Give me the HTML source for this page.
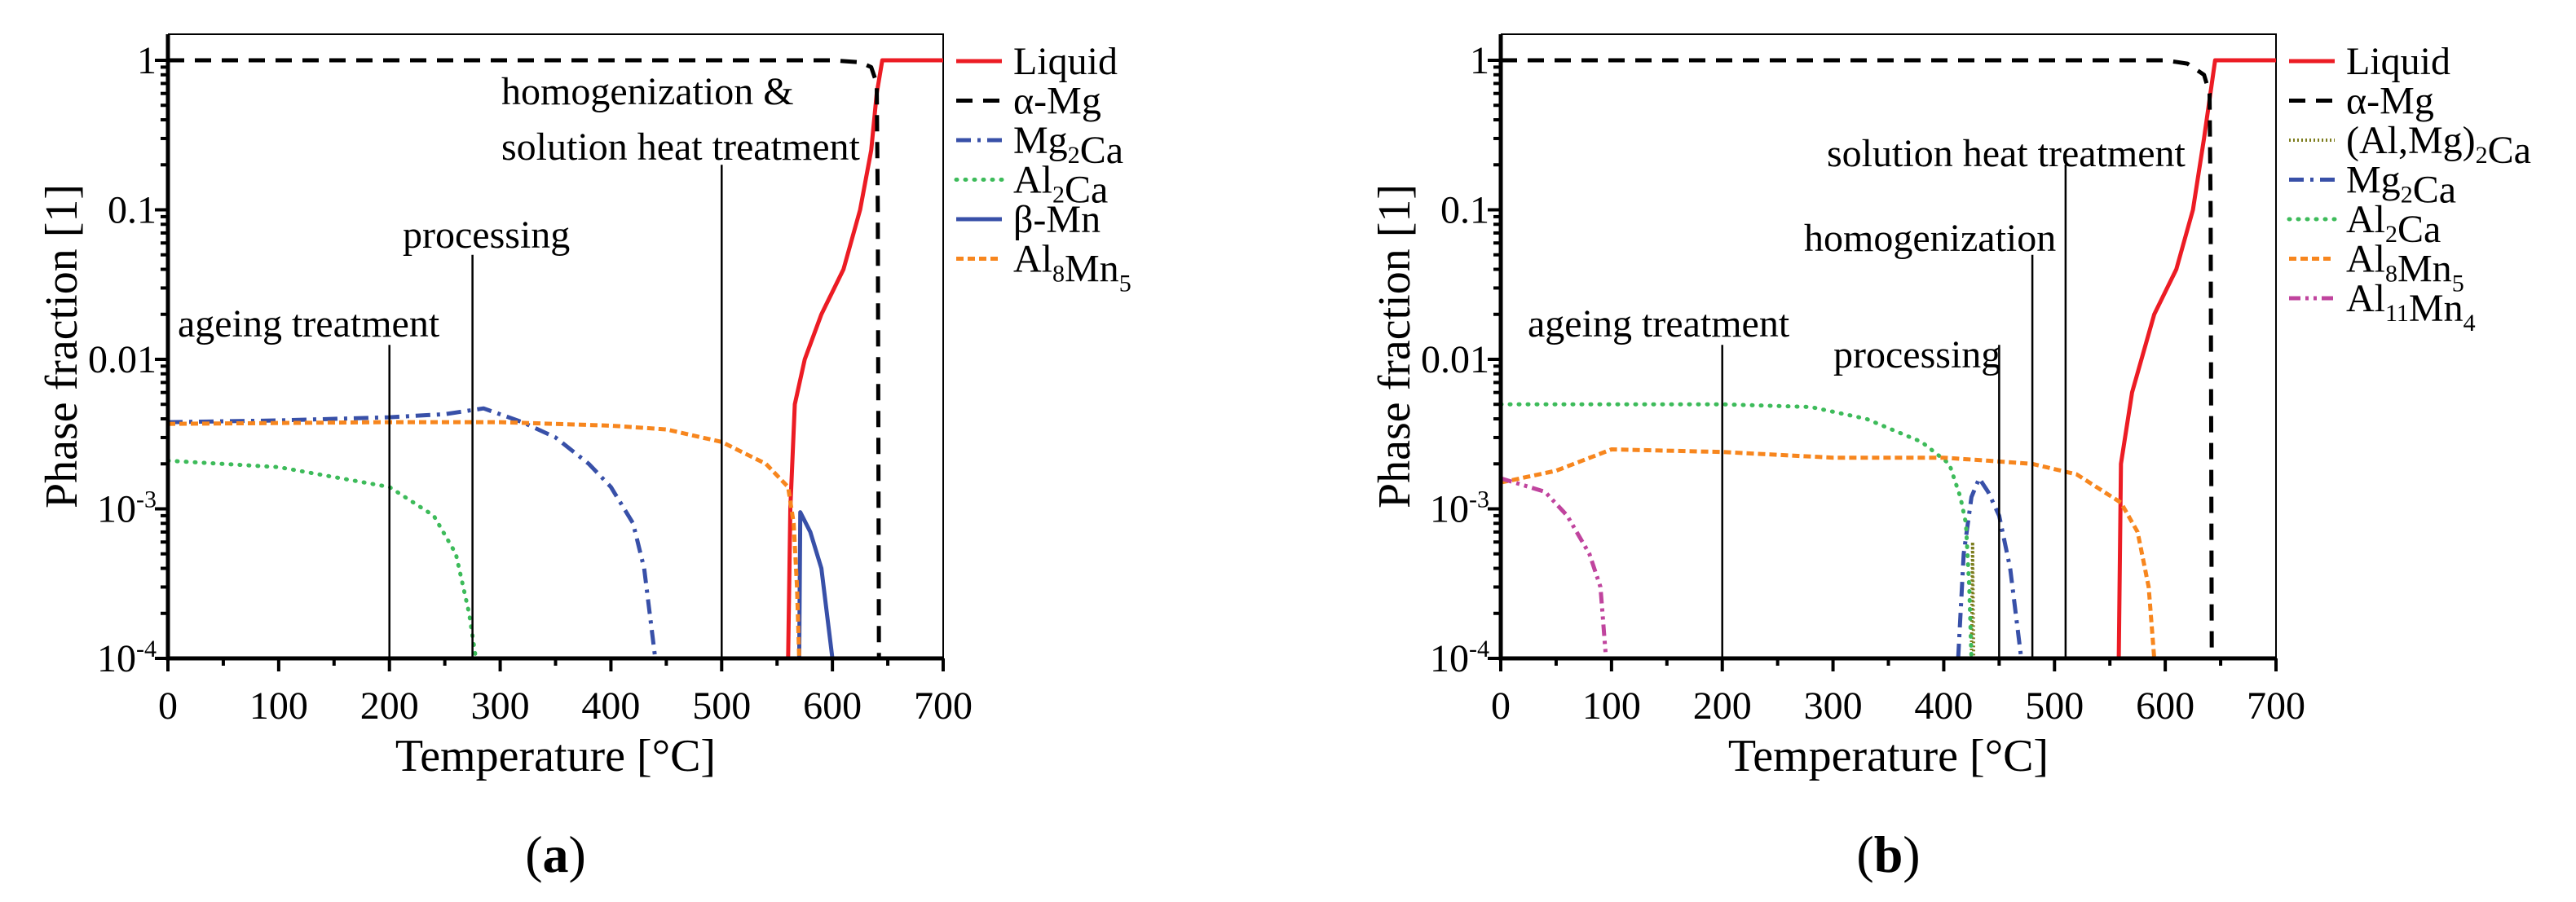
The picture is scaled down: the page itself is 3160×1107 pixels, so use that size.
<!DOCTYPE html>
<html><head><meta charset="utf-8"><style>
html,body{margin:0;padding:0;background:#fff;}
svg{display:block;font-family:"Liberation Serif",serif;}
</style></head><body>
<svg id="fig" width="3160" height="1107" viewBox="0 0 3160 1107" xmlns="http://www.w3.org/2000/svg"></svg>
<script>
// ---- Panel (a) data ----
const aLiquidT=[560,562,566,575,590,610,625,635,640,645,700];
const aLiquidF=[1e-4,1e-3,0.005,0.01,0.02,0.04,0.1,0.25,0.6,1,1];
const aMgT=[0,600,625,635,640,641,642];
const aMgF=[1,1,0.97,0.9,0.7,0.1,1e-4];
const aMg2CaT=[0,100,200,250,285,320,350,380,400,420,430,440];
const aMg2CaF=[0.0038,0.0039,0.0041,0.0043,0.0047,0.0038,0.003,0.002,0.0014,0.0008,0.0004,1e-4];
const aAl2CaT=[0,100,200,240,260,272,278];
const aAl2CaF=[0.0021,0.0019,0.0014,0.0009,0.0005,0.0002,1e-4];
const aBMnT=[570,571,580,590,600];
const aBMnF=[1e-4,0.00095,0.0007,0.0004,1e-4];
const aAl8Mn5T=[0,200,300,400,450,500,540,560,565,568,570];
const aAl8Mn5F=[0.0037,0.0038,0.0038,0.0036,0.0034,0.0028,0.002,0.0014,0.0008,0.0003,1e-4];
// ---- Panel (b) data ----
const bLiquidT=[558,560,570,590,610,625,635,645,700];
const bLiquidF=[1e-4,0.002,0.006,0.02,0.04,0.1,0.3,1,1];
const bMgT=[0,600,620,635,640,641,642];
const bMgF=[1,1,0.95,0.8,0.6,0.1,1e-4];
const bAlMgCaT=[425,426,427];
const bAlMgCaF=[1e-4,0.0006,1e-4];
const bMg2CaT=[413,418,425,432,440,450,460,465,470];
const bMg2CaF=[1e-4,0.0005,0.0012,0.0016,0.0013,0.0009,0.0004,0.0002,1e-4];
const bAl2CaT=[0,200,280,330,380,405,415,420,423,425];
const bAl2CaF=[0.005,0.005,0.0048,0.004,0.0028,0.002,0.0012,0.0008,0.0003,1e-4];
const bAl8Mn5T=[0,50,100,200,300,400,440,480,520,560,575,585,590];
const bAl8Mn5F=[0.0015,0.0018,0.0025,0.0024,0.0022,0.0022,0.0021,0.002,0.0017,0.0011,0.0007,0.0003,1e-4];
const bAl11Mn4T=[0,40,60,80,90,95];
const bAl11Mn4F=[0.0016,0.0013,0.0009,0.0005,0.0003,1e-4];
// ticks
const xTicks=[0,100,200,300,400,500,600,700];
const yTicks=[1,0.1,0.01,1e-3,1e-4];

const NS="http://www.w3.org/2000/svg";
const svg=document.getElementById('fig');
function el(tag,attrs,parent){const e=document.createElementNS(NS,tag);for(const k in attrs)e.setAttribute(k,attrs[k]);(parent||svg).appendChild(e);return e;}

const C={red:"#ec1c24",black:"#000",blue:"#3850a8",green:"#3dbb5a",orange:"#f7861e",mag:"#c0449e",olive:"#7d7d1e"};
const ST={
 solid:{dash:"",cap:"butt"},
 dash:{dash:"20 13",cap:"butt"},
 dashdot:{dash:"18 8 4 8",cap:"butt"},
 dot:{dash:"1 10",cap:"round"},
 shortdash:{dash:"9 5",cap:"butt"},
 dashdotdot:{dash:"14 6 4 6 4 6",cap:"butt"},
 olivedot:{dash:"2 3",cap:"butt"}
};

function panel(p){
  const x0=p.x0,x1=p.x0+951,yTop=74,yBot=808,frameTop=42;
  const g=el('g',{});
  
  
  const X=t=>x0+(t/700)*(x1-x0);
  const Y=f=>yTop+(-Math.log10(f))/4*(yBot-yTop);
  const fr=el('path',{d:`M${x0} ${frameTop}H${x1}V${yBot}`,fill:"none",stroke:"#000","stroke-width":2},g);
  
  p.series.forEach(s=>{
    const d=s.t.map((t,i)=>(i?'L':'M')+X(t).toFixed(1)+' '+Y(s.f[i]).toFixed(1)).join('');
    const st=ST[s.style];
    const path=el('path',{d,fill:"none",stroke:s.color,"stroke-width":s.w||5,"stroke-dasharray":st.dash,"stroke-linecap":st.cap,"stroke-linejoin":"round"},g);
    
    
  });
  p.ann.forEach(a=>{
    const ln=el('line',{x1:X(a.t),x2:X(a.t),y1:Y(a.top),y2:yBot,stroke:"#000","stroke-width":2.5},g);
    
    
    a.lines.forEach((txt,i)=>{
      const tx=el('text',{x:a.tx,y:a.ty+i*68,"font-size":48},g);
      tx.textContent=txt;
      
      
    });
  });
  const ax=el('path',{d:`M${x0} ${frameTop}V${yBot}H${x1}`,fill:"none",stroke:"#000","stroke-width":5},g);
  
  for(let t=0;t<=700;t+=50){
    const major=t%100===0;
    el('line',{x1:X(t),x2:X(t),y1:yBot,y2:yBot+(major?16:9),stroke:"#000","stroke-width":4},g);
  }
  xTicks.forEach(t=>{
    const tx=el('text',{x:X(t),y:yBot+74,"font-size":48,"text-anchor":"middle"},g);
    tx.textContent=String(t);
    
    
  });
  for(let dec=0;dec<4;dec++){
    for(let m=2;m<=9;m++){
      const f=Math.pow(10,-dec-1)*m;
      el('line',{x1:x0-9,x2:x0,y1:Y(f),y2:Y(f),stroke:"#000","stroke-width":4},g);
    }
  }
  yTicks.forEach(f=>{
    el('line',{x1:x0-16,x2:x0,y1:Y(f),y2:Y(f),stroke:"#000","stroke-width":4},g);
    const tx=el('text',{x:x0-14,y:Y(f)+16,"font-size":48,"text-anchor":"end"},g);
    
    
    if(f>=0.01){tx.textContent=String(f);}
    else{
      const e=Math.round(Math.log10(f));
      const a=el('tspan',{},tx);a.textContent="10";
      const b=el('tspan',{dy:-18,"font-size":30},tx);b.textContent=String(e);
    }
  });
  const xt=el('text',{x:(x0+x1)/2,y:946,"font-size":56,"text-anchor":"middle"},g);
  xt.textContent="Temperature [°C]";
  
  const yt=el('text',{x:0,y:0,"font-size":56,"text-anchor":"middle",transform:`translate(${x0-112},${(frameTop+yBot)/2}) rotate(-90)`},g);
  yt.textContent="Phase fraction [1]";
  
  p.series.forEach((s,i)=>{
    const ly=75+i*48.5;
    const st=ST[s.style];
    el('line',{x1:x1+16,x2:x1+72,y1:ly,y2:ly,stroke:s.color,"stroke-width":s.w||5,"stroke-dasharray":st.dash,"stroke-linecap":st.cap},g);
    const tx=el('text',{x:x1+86,y:ly+16,"font-size":48},g);
    
    
    s.label.forEach(part=>{
      if(part[1]){
        const ts=el('tspan',{"font-size":30,dy:12},tx);ts.textContent=part[0];
        const r=el('tspan',{dy:-12},tx);r.textContent="";
      } else {
        const ts=el('tspan',{},tx);ts.textContent=part[0];
      }
    });
  });
  const pl=el('text',{x:(x0+x1)/2,y:1070,"font-size":64,"text-anchor":"middle"},g);
  
  const t1=el('tspan',{},pl);t1.textContent="(";
  const t2=el('tspan',{"font-weight":"bold"},pl);t2.textContent=p.letter;
  const t3=el('tspan',{},pl);t3.textContent=")";
}

panel({name:'panel-a',x0:206,letter:'a',
 series:[
  {key:'liquid',t:aLiquidT,f:aLiquidF,color:C.red,style:'solid',label:[["Liquid"]]},
  {key:'alpha-mg',t:aMgT,f:aMgF,color:C.black,style:'dash',label:[["α-Mg"]]},
  {key:'mg2ca',t:aMg2CaT,f:aMg2CaF,color:C.blue,style:'dashdot',label:[["Mg"],["2",1],["Ca"]]},
  {key:'al2ca',t:aAl2CaT,f:aAl2CaF,color:C.green,style:'dot',label:[["Al"],["2",1],["Ca"]]},
  {key:'beta-mn',t:aBMnT,f:aBMnF,color:C.blue,style:'solid',label:[["β-Mn"]]},
  {key:'al8mn5',t:aAl8Mn5T,f:aAl8Mn5F,color:C.orange,style:'shortdash',label:[["Al"],["8",1],["Mn"],["5",1]]}
 ],
 ann:[
  {key:'ageing',t:200,top:0.0125,tx:218,ty:413,lines:["ageing treatment"]},
  {key:'processing',t:275,top:0.05,tx:494,ty:304,lines:["processing"]},
  {key:'homogenization',t:500,top:0.2,tx:615,ty:128,lines:["homogenization &","solution heat treatment"]}
 ]});

panel({name:'panel-b',x0:1841,letter:'b',
 series:[
  {key:'liquid',t:bLiquidT,f:bLiquidF,color:C.red,style:'solid',label:[["Liquid"]]},
  {key:'alpha-mg',t:bMgT,f:bMgF,color:C.black,style:'dash',label:[["α-Mg"]]},
  {key:'almg2ca',t:bAlMgCaT,f:bAlMgCaF,color:C.olive,style:'olivedot',w:4,label:[["(Al,Mg)"],["2",1],["Ca"]]},
  {key:'mg2ca',t:bMg2CaT,f:bMg2CaF,color:C.blue,style:'dashdot',label:[["Mg"],["2",1],["Ca"]]},
  {key:'al2ca',t:bAl2CaT,f:bAl2CaF,color:C.green,style:'dot',label:[["Al"],["2",1],["Ca"]]},
  {key:'al8mn5',t:bAl8Mn5T,f:bAl8Mn5F,color:C.orange,style:'shortdash',label:[["Al"],["8",1],["Mn"],["5",1]]},
  {key:'al11mn4',t:bAl11Mn4T,f:bAl11Mn4F,color:C.mag,style:'dashdotdot',label:[["Al"],["11",1],["Mn"],["4",1]]}
 ],
 ann:[
  {key:'ageing',t:200,top:0.0125,tx:1874,ty:413,lines:["ageing treatment"]},
  {key:'processing',t:450,top:0.0125,tx:2249,ty:451,lines:["processing"]},
  {key:'homogenization',t:480,top:0.05,tx:2213,ty:308,lines:["homogenization"]},
  {key:'solution',t:510,top:0.2,tx:2241,ty:204,lines:["solution heat treatment"]}
 ]});
</script>
</body></html>
